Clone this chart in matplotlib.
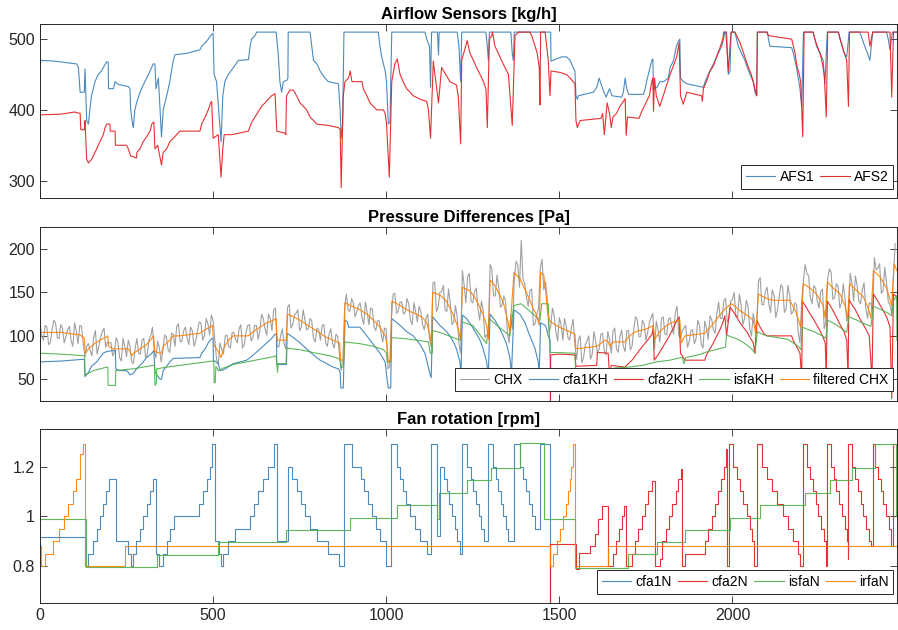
import numpy as np
import matplotlib
matplotlib.use("Agg")
import matplotlib.pyplot as plt

plt.rcParams['font.family'] = ['Liberation Sans', 'DejaVu Sans']

# ---- data (time, value) ----
afs1 = [(0,462),(3,470),(40,469),(106,465),(111,460),(116,425),(128,425),(130,458),(135,385),(140,380),
        (144,400),(149,420),(159,440),(168,450),(178,455),(183,460),(193,468),(197,468),(198,430),(212,430),
        (217,440),(226,436),(255,433),(260,430),(262,400),(268,378),(270,375),(274,400),(279,410),(289,425),
        (298,435),(308,445),(318,455),(327,465),(332,465),(335,430),(342,445),(351,362),(356,400),(366,420),
        (375,440),(380,455),(385,470),(390,478),(424,480),(462,485),(467,490),(477,495),(486,500),(496,507),
        (500,508),(503,450),(510,440),(516,400),(523,355),(528,420),(534,440),(544,450),(559,460),(573,470),
        (602,471),(607,490),(611,500),(621,505),(626,510),(682,510),(688,480),(693,440),(698,425),(703,440),
        (713,442),(716,445),(717,510),(780,510),(785,490),(790,470),(800,465),(809,455),(823,445),(833,440),
        (862,437),(867,400),(870,360),(874,380),(878,510),(977,510),(982,490),(987,475),(992,465),(997,455),
        (1001,440),(1006,380),(1011,383),(1016,510),(1112,510),(1117,500),(1125,490),(1128,432),(1131,510),
        (1148,510),(1151,478),(1153,510),(1205,510),(1210,490),(1215,440),(1218,510),(1288,510),(1292,490),
        (1295,470),(1298,510),(1360,510),(1364,480),(1367,470),(1370,510),(1475,510),(1476,469),(1507,475),
        (1521,475),(1531,470),(1540,460),(1545,455),(1548,420),(1552,415),(1555,420),(1598,425),(1608,432),
        (1615,445),(1625,430),(1635,418),(1645,430),(1652,420),(1680,418),(1685,425),(1690,445),(1695,430),
        (1700,422),(1743,422),(1748,430),(1752,440),(1757,450),(1762,460),(1767,470),(1770,472),(1772,430),
        (1782,432),(1791,440),(1801,440),(1815,445),(1820,460),(1830,470),(1838,490),(1844,497),(1848,500),
        (1850,445),(1858,440),(1868,437),(1916,432),(1921,440),(1930,450),(1940,460),(1950,470),(1959,480),
        (1969,490),(1974,500),(1978,510),(1983,510),(1988,450),(1993,455),(1996,510),(2007,510),(2012,500),
        (2017,490),(2026,480),(2036,470),(2043,460),(2051,450),(2060,440),(2065,425),(2070,420),(2072,510),
        (2101,510),(2104,500),(2108,490),(2171,488),(2176,480),(2185,460),(2195,430),(2200,405),(2205,510),
        (2233,510),(2238,500),(2243,490),(2253,480),(2262,470),(2267,437),(2274,510),(2306,510),(2311,500),
        (2317,490),(2323,480),(2330,475),(2337,510),(2368,510),(2375,500),(2382,490),(2390,480),(2397,470),
        (2405,510),(2445,510),(2450,500),(2455,485),(2462,510),(2475,510)]

afs2 = [(0,393),(60,394),(100,397),(116,395),(118,372),(128,372),(130,385),(135,330),(140,325),(149,330),
        (154,335),(164,345),(173,355),(183,365),(188,375),(193,380),(202,380),(203,370),(217,370),(218,350),
        (250,350),(255,345),(262,335),(279,332),(280,340),(289,345),(298,355),(308,362),(318,370),(323,380),
        (329,383),(332,345),(340,350),(351,322),(356,340),(366,345),(375,355),(385,360),(395,365),(404,370),
        (462,370),(467,380),(477,390),(486,400),(493,410),(496,412),(500,360),(515,365),(523,305),(528,345),
        (532,365),(554,365),(602,370),(611,382),(621,390),(631,398),(640,405),(650,410),(659,415),(669,420),
        (679,423),(684,370),(708,367),(710,365),(712,420),(722,428),(732,428),(741,420),(751,410),(761,405),
        (770,400),(780,390),(790,385),(799,380),(833,378),(862,375),(867,373),(870,290),(876,420),(881,440),
        (891,445),(896,455),(901,440),(930,440),(934,430),(944,420),(953,410),(963,405),(973,400),(992,400),
        (997,395),(1001,380),(1009,305),(1016,440),(1025,465),(1032,472),(1040,450),(1049,440),(1059,430),
        (1069,425),(1078,420),(1098,415),(1117,412),(1122,400),(1128,360),(1136,469),(1151,410),(1160,460),
        (1172,450),(1184,440),(1203,435),(1208,420),(1215,352),(1218,470),(1234,498),(1242,480),(1252,470),
        (1261,460),(1271,450),(1281,440),(1288,430),(1292,375),(1298,500),(1305,505),(1307,510),(1314,490),
        (1324,480),(1333,470),(1343,460),(1353,450),(1364,378),(1372,505),(1382,510),(1415,510),(1420,505),
        (1430,490),(1436,480),(1442,460),(1444,407),(1446,510),(1459,510),(1468,470),(1473,420),(1476,455),
        (1502,453),(1521,450),(1531,445),(1540,440),(1545,437),(1548,385),(1552,375),(1560,385),(1620,388),
        (1625,395),(1630,365),(1638,410),(1645,395),(1650,375),(1655,390),(1665,395),(1675,405),(1685,412),
        (1690,416),(1693,364),(1697,390),(1730,388),(1740,400),(1750,410),(1760,420),(1767,440),(1770,445),
        (1772,398),(1775,445),(1780,420),(1790,405),(1800,420),(1810,435),(1820,450),(1829,462),(1839,475),
        (1846,495),(1850,420),(1858,408),(1868,425),(1911,420),(1913,412),(1916,430),(1925,440),(1935,455),
        (1945,462),(1954,475),(1964,488),(1972,500),(1975,510),(1981,510),(1988,455),(1996,510),(2007,510),
        (2012,505),(2022,495),(2031,482),(2039,470),(2046,460),(2053,452),(2060,440),(2065,430),(2070,420),
        (2072,510),(2099,510),(2104,505),(2171,500),(2176,490),(2181,480),(2185,465),(2193,450),(2197,440),
        (2203,362),(2207,510),(2233,510),(2238,500),(2245,490),(2253,480),(2260,465),(2265,450),(2271,390),
        (2275,510),(2306,510),(2311,500),(2317,490),(2323,480),(2330,470),(2335,405),(2338,510),(2392,510),
        (2397,490),(2405,510),(2455,510),(2460,418),(2465,510),(2475,510)]

# CHX read every 10 time units (t = 0, 10, ...) and in between (t = 5, 15, ...)
chx_step = 10
chx = [116,95,110,92,118,98,113,92,107,94,115,91,111,76,91,77,106,88,105,87,
       92,77,98,75,97,76,88,68,97,79,97,79,100,82,94,70,101,84,103,88,
       114,94,110,90,106,94,116,95,120,101,118,73,92,79,101,86,104,92,113,90,
       112,94,112,96,125,108,125,106,132,87,108,85,136,113,126,106,130,107,120,97,
       109,95,113,88,108,86,99,60,134,130,143,122,135,121,139,113,131,106,117,93,
       108,65,148,126,139,125,143,118,138,116,128,107,125,87,162,133,151,130,154,113,
       135,91,175,138,172,138,155,118,130,101,182,146,170,133,146,103,125,164,182,210,
       160,134,154,114,132,188,162,104,132,105,121,95,111,95,119,73,100,75,94,73,
       105,81,102,82,105,80,109,81,107,82,106,88,122,99,118,95,115,126,117,93,
       122,101,121,102,134,98,109,87,106,91,118,90,117,96,119,103,139,120,143,120,
       142,122,148,113,141,108,126,104,167,136,156,127,147,130,159,127,158,125,138,103,
       140,182,169,137,155,132,154,116,177,142,160,132,160,117,172,140,158,137,161,120,
       137,190,178,149,179,139,125,206]
chx_mid = [100,112,90,107,115,97,109,99,111,88,105,112,91,88,83,98,79,98,109,93,
           92,81,93,71,88,95,70,86,80,95,75,96,110,75,86,83,99,81,102,111,
           93,106,97,110,88,106,115,100,114,124,96,67,84,100,88,104,96,108,86,103,
           113,98,112,106,120,101,120,130,88,100,91,133,109,124,130,110,119,108,117,93,
           107,112,92,102,91,102,78,75,148,128,138,128,138,113,127,132,110,118,104,109,
           62,120,149,129,139,127,137,113,128,134,113,120,98,161,128,150,158,128,138,116,
           122,80,159,168,140,151,131,140,98,100,177,146,156,136,139,92,108,186,156,166,
           144,152,112,125,178,153,144,110,124,94,113,120,98,110,89,95,69,90,100,79,
           94,85,103,78,96,105,85,99,88,106,84,108,119,99,114,104,121,85,107,120,
           102,119,110,127,100,106,112,93,107,97,112,86,109,123,107,126,120,140,116,140,
           150,122,135,120,134,100,114,163,136,151,137,153,121,145,156,131,147,128,136,92,
           164,172,144,158,140,151,108,166,173,144,157,138,144,120,161,169,140,153,133,138,
           130,176,183,152,161,136,171]

chx_filt = [(0,104),(60,104),(116,101),(128,97),(131,80),(140,85),(154,90),(173,95),(193,99),(196,100),
            (198,88),(212,85),(255,85),(260,82),(265,77),(270,80),(289,85),(308,90),(323,97),(328,100),
            (332,82),(347,80),(351,80),(356,88),(375,95),(385,100),(404,100),(462,103),(481,108),(498,112),
            (502,90),(515,82),(523,75),(530,85),(544,95),(558,100),(602,100),(616,105),(636,110),(655,115),
            (674,118),(682,120),(685,95),(712,95),(715,125),(732,122),(751,118),(770,113),(790,108),(809,103),
            (828,98),(847,95),(865,92),(869,72),(877,72),(881,138),(896,135),(924,130),(944,125),(963,118),
            (982,110),(997,100),(1002,90),(1006,70),(1013,72),(1016,140),(1040,135),(1069,128),(1088,125),
            (1107,120),(1117,115),(1127,100),(1131,90),(1134,150),(1155,147),(1174,140),(1194,124),(1205,112),
            (1215,96),(1220,156),(1242,152),(1261,141),(1280,124),(1290,112),(1295,96),(1300,164),(1314,158),
            (1338,139),(1352,116),(1357,104),(1369,173),(1386,166),(1405,150),(1425,131),(1434,124),(1442,112),
            (1446,173),(1455,170),(1460,154),(1465,131),(1470,120),(1475,116),(1500,110),(1545,102),(1548,85),
            (1608,88),(1620,91),(1630,95),(1640,94),(1646,88),(1655,93),(1690,93),(1700,99),(1720,105),
            (1752,108),(1771,112),(1775,96),(1790,105),(1810,112),(1829,116),(1848,118),(1852,92),(1863,100),
            (1920,103),(1940,112),(1960,122),(1980,132),(1998,137),(2022,129),(2041,124),(2060,118),(2067,102),
            (2075,148),(2099,143),(2118,141),(2166,141),(2185,126),(2197,110),(2205,160),(2224,155),(2243,148),
            (2262,135),(2268,120),(2274,162),(2291,155),(2311,148),(2325,135),(2333,120),(2338,160),(2359,152),
            (2378,145),(2392,132),(2400,120),(2407,175),(2426,168),(2445,155),(2460,135),(2467,183),(2475,175)]

cfa1kh = [(0,70),(60,71),(125,73),(128,73),(130,53),(140,58),(149,65),(164,70),(173,75),(183,80),(193,82),
          (212,83),(218,83),(219,62),(230,60),(250,60),(255,58),(260,55),(270,57),(279,62),(294,68),(308,75),
          (323,80),(329,83),(332,58),(347,50),(351,50),(356,60),(366,65),(375,70),(385,74),(462,75),(467,80),
          (477,85),(486,92),(496,97),(500,97),(501,72),(515,68),(520,60),(530,61),(539,63),(558,68),(578,70),
          (597,72),(616,78),(636,85),(655,92),(669,97),(679,102),(683,102),(684,67),(712,67),(714,103),
          (732,98),(751,92),(770,85),(790,78),(809,72),(828,68),(847,64),(862,62),(867,58),(869,40),(876,40),
          (881,118),(888,116),(891,110),(924,110),(944,100),(963,90),(982,80),(997,70),(1001,55),(1006,40),
          (1013,40),(1016,120),(1040,112),(1059,105),(1078,100),(1098,90),(1112,80),(1127,55),(1130,52),
          (1134,122),(1155,112),(1174,105),(1184,100),(1194,93),(1203,85),(1213,70),(1216,55),(1220,124),
          (1232,120),(1246,112),(1261,102),(1271,95),(1280,85),(1290,70),(1295,55),(1300,125),(1314,118),
          (1328,108),(1338,100),(1348,90),(1357,75),(1362,58),(1369,130),(1386,125),(1401,115),(1410,105),
          (1420,95),(1430,85),(1439,70),(1442,58),(1446,115),(1460,112),(1468,100),(1473,95),(1475,0),(2475,0)]

cfa2kh = [(0,0),(1474,0),(1475,78),(1500,79),(1545,78),(1548,65),(1608,66),(1610,81),(1641,80),(1645,55),
          (1650,66),(1690,64),(1694,66),(1710,72),(1725,80),(1740,88),(1755,95),(1768,102),(1771,110),
          (1774,72),(1785,78),(1800,88),(1815,98),(1828,108),(1840,118),(1846,122),(1850,80),(1863,72),
          (1920,72),(1925,78),(1935,85),(1945,92),(1955,100),(1965,108),(1972,115),(1978,123),(1983,100),
          (1993,133),(2002,128),(2012,122),(2022,115),(2031,110),(2041,105),(2051,98),(2060,92),(2065,80),
          (2070,118),(2080,110),(2090,103),(2100,100),(2171,100),(2175,95),(2185,88),(2195,80),(2200,50),
          (2202,140),(2210,135),(2220,128),(2230,122),(2240,115),(2250,108),(2260,100),(2268,92),(2271,50),
          (2274,140),(2282,135),(2292,128),(2302,120),(2312,112),(2322,105),(2330,95),(2334,50),(2336,142),
          (2345,136),(2355,130),(2365,122),(2375,115),(2385,108),(2395,100),(2403,50),(2407,148),(2417,142),
          (2427,135),(2437,128),(2447,120),(2455,110),(2460,28),(2465,148),(2475,145)]

isfakh = [(0,80),(60,79),(125,77),(129,77),(130,55),(140,57),(154,60),(173,62),(193,64),(196,64),(197,43),
          (218,43),(219,60),(241,61),(270,62),(298,64),(327,66),(331,66),(332,43),(336,45),(337,62),(366,64),
          (404,66),(443,68),(481,70),(498,71),(502,71),(503,46),(506,46),(508,65),(515,60),(530,63),(558,67),
          (597,70),(636,73),(674,76),(682,77),(684,68),(686,58),(688,68),(711,68),(712,86),(751,84),(799,80),
          (838,77),(862,74),(867,72),(869,64),(876,64),(881,93),(924,91),(963,88),(992,84),(1001,80),
          (1003,70),(1013,70),(1016,98),(1049,97),(1088,95),(1122,93),(1127,80),(1133,80),(1134,106),
          (1155,104),(1213,95),(1218,116),(1250,112),(1290,91),(1297,120),(1320,112),(1357,100),(1369,135),
          (1390,137),(1444,118),(1449,137),(1468,137),(1473,81),(1545,80),(1548,50),(1580,52),(1620,55),
          (1640,60),(1660,63),(1700,64),(1740,66),(1760,68),(1780,70),(1800,71),(1820,72),(1840,74),
          (1855,75),(1860,68),(1865,75),(1900,78),(1930,82),(1960,85),(1980,87),(1983,101),(1995,99),
          (2010,97),(2025,94),(2040,90),(2055,85),(2065,80),(2072,105),(2085,102),(2100,100),(2130,98),
          (2160,96),(2175,92),(2190,88),(2198,84),(2202,110),(2220,107),(2240,104),(2260,100),(2270,97),
          (2274,118),(2290,115),(2310,110),(2330,104),(2336,122),(2360,118),(2380,114),(2400,111),(2407,134),
          (2430,130),(2450,126),(2460,123),(2465,140),(2474,146),(2475,95)]

# fan speeds: step levels (start time, value)
cfa1n = [(0,0.915),(130,0.80),(140,0.85),(152,0.90),(164,0.95),(173,1.00),(183,1.05),(191,1.10),(200,1.15),
         (219,0.90),(255,0.85),(262,0.80),(270,0.85),(277,0.90),(289,0.95),(298,1.00),(308,1.05),(318,1.10),
         (327,1.15),(335,0.85),(345,0.80),(356,0.85),(366,0.90),(375,0.95),(387,1.00),(460,1.05),(472,1.10),
         (481,1.15),(491,1.20),(498,1.29),(505,0.90),(517,0.85),(522,0.80),(530,0.85),(544,0.90),(563,0.95),
         (607,1.00),(618,1.05),(631,1.10),(643,1.15),(658,1.20),(676,1.29),(685,0.90),(716,1.20),(729,1.15),
         (741,1.10),(754,1.05),(765,1.00),(780,0.95),(799,0.90),(833,0.85),(864,0.80),(878,1.29),(902,1.20),
         (927,1.15),(937,1.10),(948,1.05),(958,1.00),(970,0.95),(982,0.90),(999,0.80),(1013,1.29),(1032,1.20),
         (1040,1.15),(1049,1.10),(1056,1.05),(1069,1.00),(1083,0.95),(1099,0.90),(1117,0.85),(1129,1.29),
         (1148,0.92),(1155,1.20),(1167,1.15),(1175,1.10),(1182,1.05),(1190,1.00),(1198,0.95),(1205,0.90),
         (1212,0.85),(1218,1.29),(1232,1.20),(1244,1.15),(1251,1.10),(1259,1.05),(1269,1.00),(1275,0.95),
         (1283,0.90),(1293,1.29),(1307,1.20),(1317,1.15),(1324,1.10),(1331,1.05),(1338,1.00),(1346,0.95),
         (1353,0.90),(1369,1.29),(1386,1.20),(1396,1.15),(1404,1.10),(1412,1.05),(1420,1.00),(1430,0.95),
         (1444,1.29),(1474,0.0),(2475,0.0)]

cfa2n = [(0,0.0),(1474,0.89),(1548,0.787),(1558,0.853),(1588,0.88),(1603,0.93),(1613,0.99),(1622,1.04),
         (1641,0.80),(1656,0.85),(1665,0.90),(1673,0.95),(1680,1.00),(1686,1.04),(1692,0.80),(1709,0.85),
         (1718,0.90),(1728,0.95),(1738,1.00),(1747,1.05),(1757,1.10),(1767,1.14),(1776,0.80),(1790,0.83),
         (1797,0.90),(1807,0.95),(1817,1.00),(1826,1.05),(1836,1.10),(1843,1.15),(1850,1.19),(1853,0.80),
         (1863,0.85),(1920,0.90),(1930,0.95),(1940,1.00),(1950,1.05),(1959,1.10),(1967,1.15),(1975,1.20),
         (1980,1.27),(1985,0.80),(1991,1.29),(2002,1.20),(2012,1.15),(2022,1.10),(2031,1.05),(2041,1.00),
         (2051,0.95),(2057,0.90),(2063,0.80),(2070,1.29),(2084,1.20),(2100,1.15),(2115,1.10),(2130,1.05),
         (2145,1.00),(2160,0.95),(2175,0.90),(2188,0.85),(2195,0.80),(2205,1.29),(2214,1.20),(2224,1.15),
         (2232,1.10),(2240,1.05),(2248,1.00),(2256,0.95),(2264,0.90),(2270,0.80),(2272,1.29),(2284,1.20),
         (2292,1.15),(2300,1.10),(2308,1.05),(2316,1.00),(2324,0.95),(2330,0.90),(2333,0.83),(2335,1.29),
         (2346,1.20),(2354,1.15),(2362,1.10),(2370,1.05),(2378,1.00),(2386,0.95),(2394,0.90),(2400,0.88),
         (2407,1.29),(2412,1.20),(2420,1.15),(2428,1.10),(2436,1.05),(2444,1.00),(2452,0.95),(2457,0.88),
         (2465,1.29),(2475,1.29)]

isfan = [(0,0.99),(133,0.795),(339,0.845),(515,0.895),(712,0.945),(895,0.995),(1032,1.045),(1148,0.99),
         (1152,1.095),(1232,1.145),(1304,1.195),(1386,1.295),(1455,0.99),(1545,0.79),(1699,0.85),(1781,0.895),
         (1863,0.945),(1993,0.995),(2080,1.045),(2209,1.095),(2282,1.145),(2344,1.195),(2412,1.29),(2472,1.0),
         (2475,1.0)]

irfan = [(0,0.88),(2,0.80),(14,0.85),(38,0.90),(56,0.95),(70,1.00),(82,1.05),(94,1.10),(104,1.15),(116,1.25),
         (123,1.29),(130,0.80),(245,0.88),(1473,0.80),(1482,0.85),(1492,0.90),(1502,0.95),(1510,1.00),
         (1518,1.05),(1524,1.10),(1530,1.15),(1535,1.20),(1540,1.29),(1546,0.80),(1641,0.88),(2475,0.88)]

fan_ticks = [0.8, 1.0, 1.2]
fan_ticklabels = ['0.8', '1', '1.2']

# colours
c_blue, c_red, c_green, c_orange, c_gray = '#377eb8', '#e41a1c', '#4daf4a', '#ff7f00', '#a0a0a0'
lw = 0.8
alpha = 0.9


def xy(pairs):
    t, v = zip(*pairs)
    return np.array(t), np.array(v)


def style(ax, title):
    ax.set_xlim(0, 2475)
    ax.set_title(title, fontsize=12, fontweight='bold', pad=4)
    ax.tick_params(direction='in', top=True, right=True, length=5, width=0.6,
                   labelsize=11.5, colors='#262626')
    for s in ax.spines.values():
        s.set_color('#262626')
        s.set_linewidth(0.7)
    ax.set_xticks([0, 500, 1000, 1500, 2000])


def legend(ax, ncol):
    leg = ax.legend(loc='lower right', bbox_to_anchor=(0.996, 0.055), ncol=ncol, fontsize=10,
                    handlelength=2.1, handletextpad=0.3, columnspacing=0.45, borderpad=0.35,
                    borderaxespad=0, fancybox=False, framealpha=1, edgecolor='#262626')
    leg.get_frame().set_linewidth(0.7)


fig = plt.figure(figsize=(8.98, 6.3), dpi=100)
ax1 = fig.add_axes([0.0445, 0.6852, 0.9543, 0.2762])
ax2 = fig.add_axes([0.0445, 0.3635, 0.9543, 0.2757])
ax3 = fig.add_axes([0.0445, 0.0424, 0.9543, 0.2762])

# Airflow sensors
ax1.plot(*xy(afs1), color=c_blue, lw=lw, alpha=alpha, label='AFS1')
ax1.plot(*xy(afs2), color=c_red, lw=lw, alpha=alpha, label='AFS2')
ax1.set_ylim(275, 521)
ax1.set_yticks([300, 400, 500])
ax1.set_xticklabels([])
style(ax1, 'Airflow Sensors [kg/h]')
legend(ax1, 2)

# Pressure differences: merge the two CHX readings in time order
chx_all = np.empty(len(chx) + len(chx_mid))
chx_all[0::2] = chx
chx_all[1::2] = chx_mid
chx_t = np.arange(len(chx_all)) * chx_step / 2
ax2.plot(chx_t, chx_all, color=c_gray, lw=lw, label='CHX')
ax2.plot(*xy(cfa1kh), color=c_blue, lw=lw, alpha=alpha, label='cfa1KH')
ax2.plot(*xy(cfa2kh), color=c_red, lw=lw, alpha=alpha, label='cfa2KH')
ax2.plot(*xy(isfakh), color=c_green, lw=lw, alpha=alpha, label='isfaKH')
ax2.plot(*xy(chx_filt), color=c_orange, lw=lw, alpha=alpha, label='filtered CHX')
ax2.set_ylim(25, 225)
ax2.set_yticks([50, 100, 150, 200])
ax2.set_xticklabels([])
style(ax2, 'Pressure Differences [Pa]')
legend(ax2, 5)

# Fan rotation
ax3.plot(*xy(cfa1n), color=c_blue, lw=lw, alpha=alpha, drawstyle='steps-post', label='cfa1N')
ax3.plot(*xy(cfa2n), color=c_red, lw=lw, alpha=alpha, drawstyle='steps-post', label='cfa2N')
ax3.plot(*xy(isfan), color=c_green, lw=lw, alpha=alpha, drawstyle='steps-post', label='isfaN')
ax3.plot(*xy(irfan), color=c_orange, lw=lw, alpha=alpha, drawstyle='steps-post', label='irfaN')
ax3.set_ylim(0.65, 1.35)
ax3.set_yticks(fan_ticks)
ax3.set_yticklabels(fan_ticklabels)
style(ax3, 'Fan rotation [rpm]')
legend(ax3, 4)

fig.savefig('out.png', dpi=100)
